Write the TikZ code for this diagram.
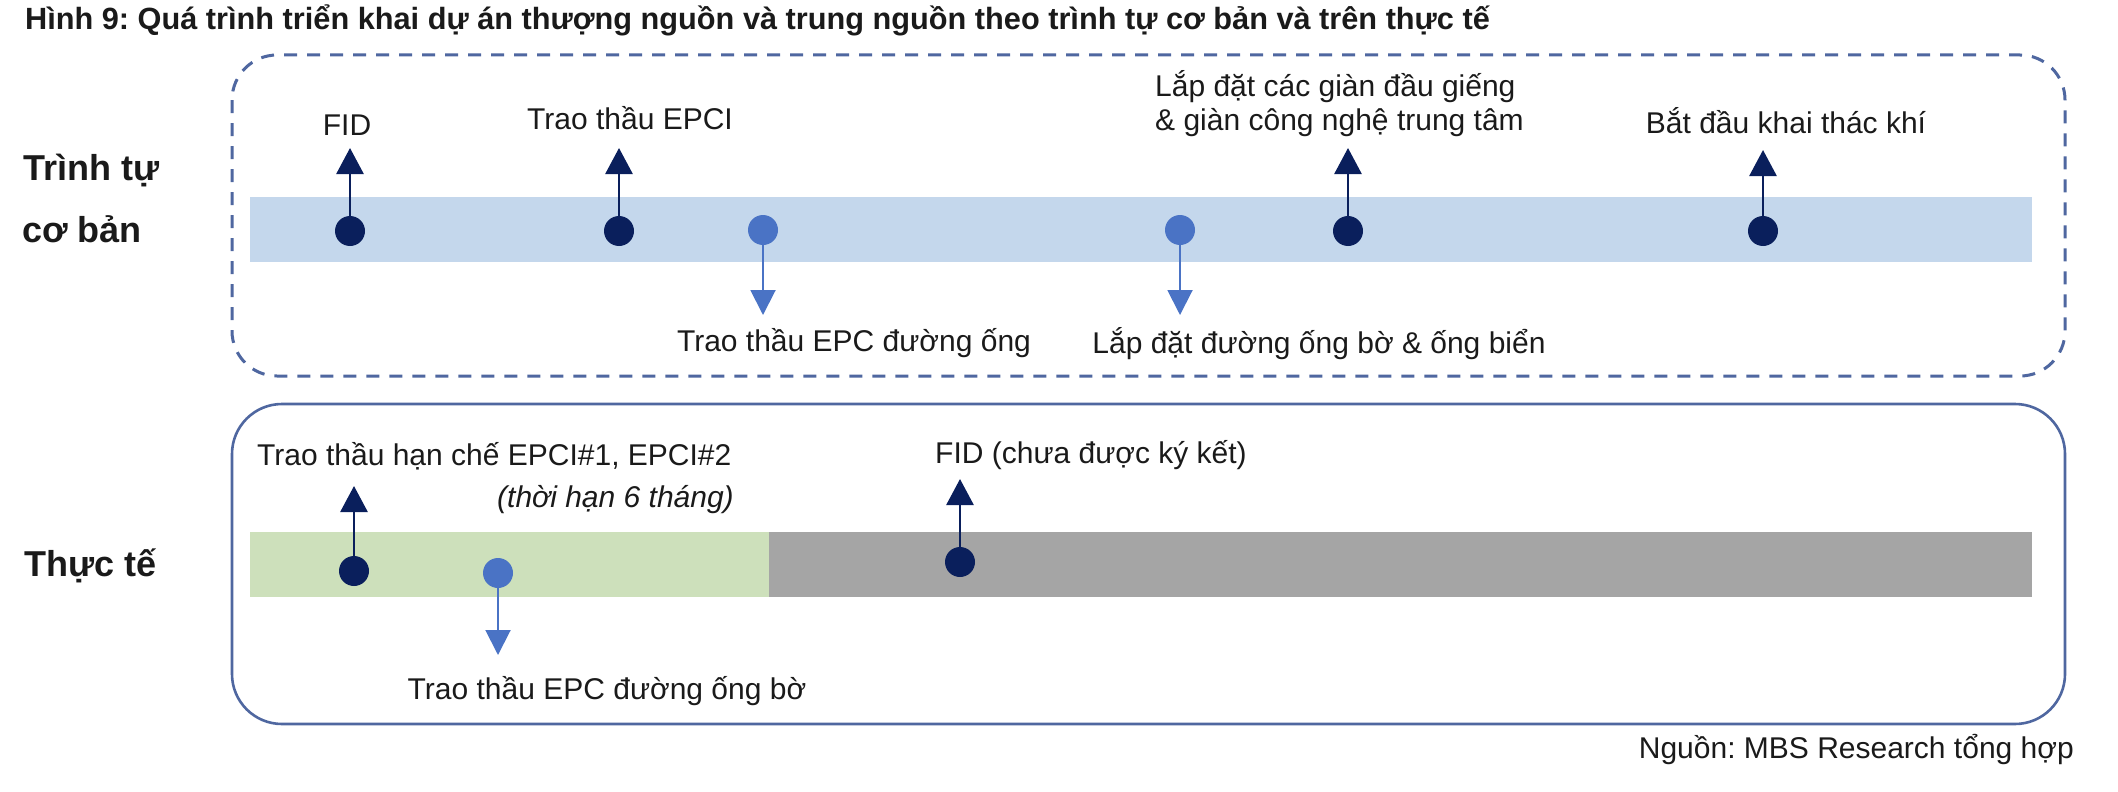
\documentclass[tikz,border=0pt]{standalone}
\usepackage{fontspec}
\setmainfont{Liberation Sans}
\usetikzlibrary{arrows.meta}
\frenchspacing
\definecolor{navy}{HTML}{0A1F5C}
\definecolor{lightdot}{HTML}{4A73C5}
\definecolor{bandblue}{HTML}{C4D7EC}
\definecolor{bandgreen}{HTML}{CDE0BB}
\definecolor{bandgray}{HTML}{A5A5A5}
\definecolor{boxline}{HTML}{4F67A0}
\definecolor{txt}{HTML}{1A1A1A}
\tikzset{
  lbl/.style={inner sep=0pt, text=txt, font=\fontsize{30}{36}\selectfont},
  rowlbl/.style={inner sep=0pt, text=txt, anchor=base west, font=\bfseries\fontsize{36}{42}\selectfont},
  darkdot/.style={circle, fill=navy, minimum size=30pt, inner sep=0pt},
  lightdotst/.style={circle, fill=lightdot, minimum size=30pt, inner sep=0pt},
  uparr/.style={draw=navy, line width=2.7pt, -{Triangle[length=26pt,width=27pt]}},
  downarr/.style={draw=lightdot, line width=2pt, -{Triangle[length=25pt,width=25pt]}},
}
\begin{document}
\begin{tikzpicture}[x=1pt,y=-1pt]
\useasboundingbox (0,0) rectangle (2118,792);
% title
\node[inner sep=0pt, anchor=base west, text=txt, font=\bfseries\fontsize{30.7}{36}\selectfont] (title) at (25,30) {Hình 9: Quá trình triển khai dự án thượng nguồn và trung nguồn theo trình tự cơ bản và trên thực tế};
% boxes
\draw[boxline, line width=3pt, dash pattern=on 13pt off 10pt, rounded corners=45pt] (232,55) rectangle (2065,376);
\draw[boxline, line width=2.6pt, rounded corners=50pt] (232,404) rectangle (2065,724);
% bands
\fill[bandblue] (250,197) rectangle (2032,262);
\fill[bandgreen] (250,532) rectangle (769,597);
\fill[bandgray] (769,532) rectangle (2032,597);
% row labels
\node[rowlbl] (r1a) at (23,180) {Trình tự};
\node[rowlbl] (r1b) at (22,242) {cơ bản};
\node[rowlbl] (r2) at (24,576) {Thực tế};
% top row dots
\node[darkdot] (a1) at (350,231) {};
\node[darkdot] (a2) at (619,231) {};
\node[lightdotst] (a3) at (763,230) {};
\node[lightdotst] (a4) at (1180,230) {};
\node[darkdot] (a5) at (1348,231) {};
\node[darkdot] (a6) at (1763,231) {};
\coordinate (t1) at (350,148);
\coordinate (t2) at (619,148);
\coordinate (t3) at (763,315);
\coordinate (t4) at (1180,315);
\coordinate (t5) at (1348,148);
\coordinate (t6) at (1763,150);
\draw[uparr] (a1) -- (t1);
\draw[uparr] (a2) -- (t2);
\draw[downarr] (a3) -- (t3);
\draw[downarr] (a4) -- (t4);
\draw[uparr] (a5) -- (t5);
\draw[uparr] (a6) -- (t6);
% top labels
\node[lbl, anchor=base] (l1) at (347,135) {FID};
\node[lbl, anchor=base] (l2) at (630,129) {Trao thầu EPCI};
\node[lbl, anchor=base] (l3) at (854,351) {Trao thầu EPC đường ống};
\node[lbl, anchor=base] (l4) at (1319,353) {Lắp đặt đường ống bờ \& ống biển};
\node[lbl, anchor=base west] (l5a) at (1155,96) {Lắp đặt các giàn đầu giếng};
\node[lbl, anchor=base west] (l5b) at (1155,130) {\& giàn công nghệ trung tâm};
\node[lbl, anchor=base] (l6) at (1786,133) {Bắt đầu khai thác khí};
% bottom row dots
\node[darkdot] (b1) at (354,571) {};
\node[lightdotst] (b2) at (498,573) {};
\node[darkdot] (b3) at (960,562) {};
\coordinate (u1) at (354,486);
\coordinate (u2) at (498,655);
\coordinate (u3) at (960,479);
\draw[uparr] (b1) -- (u1);
\draw[downarr] (b2) -- (u2);
\draw[uparr] (b3) -- (u3);
% bottom labels
\node[lbl, anchor=base west] (m1) at (257,465) {Trao thầu hạn chế EPCI\#1, EPCI\#2};
\node[lbl, anchor=base east, font=\itshape\fontsize{30}{36}\selectfont] (m1b) at (734,507) {(thời hạn 6 tháng)};
\node[lbl, anchor=base west] (m2) at (935,463) {FID (chưa được ký kết)};
\node[lbl, anchor=base] (m3) at (607,699) {Trao thầu EPC đường ống bờ};
% source
\node[lbl, anchor=base east] (src) at (2074,758) {Nguồn: MBS Research tổng hợp};
\end{tikzpicture}
\end{document}
